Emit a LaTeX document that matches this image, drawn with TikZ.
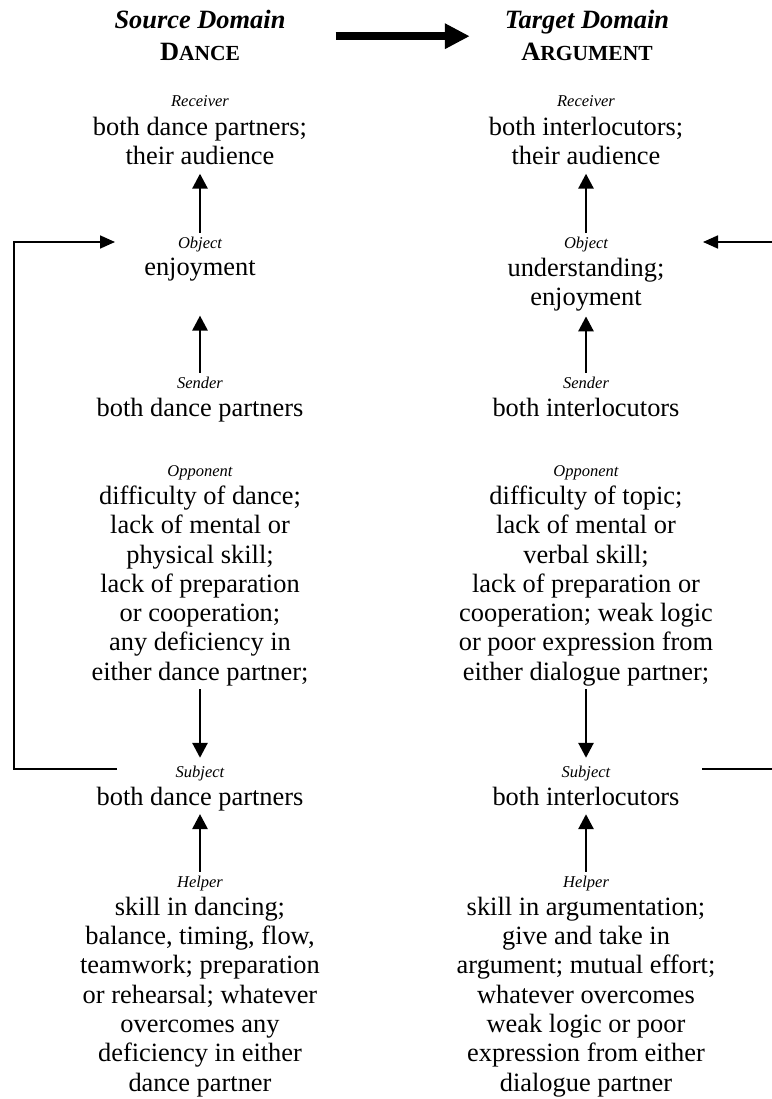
\documentclass[tikz,border=0pt]{standalone}
\usepackage{fontspec}
\setmainfont{Liberation Serif}
\usepackage{tikz}
\usetikzlibrary{arrows.meta,positioning}

\newcommand{\fakesc}[2]{#1{\fontsize{21.5}{21.5}\selectfont #2}}

\begin{document}
\begin{tikzpicture}[
  x=1pt, y=-1pt,
  heading/.style={font=\fontsize{26.4}{30}\selectfont\bfseries\itshape, inner sep=0pt, anchor=base, text height=18pt, text depth=7pt},
  domname/.style={font=\fontsize{26.4}{30}\selectfont\bfseries, inner sep=0pt, anchor=base},
  roletext/.style={font=\fontsize{16.5}{18}\selectfont\itshape, inner sep=0pt, anchor=base, text height=12pt, text depth=0pt},
  bodytext/.style={font=\fontsize{26.4}{29.3}\selectfont, align=center, inner sep=0pt},
  flow/.style={line width=2.8pt, -{Triangle[length=15pt,width=15pt]}},
  loopline/.style={line width=1.7pt, -{Triangle[length=15pt,width=13pt]}},
  bigarrow/.style={line width=8pt, -{Triangle[length=25pt,width=24pt]}},
]
\useasboundingbox (0,0) rectangle (771,1099);

% Headings
\node[heading] (sDom) at (200,29) {Source Domain};
\node[domname] (sName) at (200,61) {\fakesc{D}{ANCE}};
\node[heading] (tDom) at (587,29) {Target Domain};
\node[domname] (tName) at (587,61) {\fakesc{A}{RGUMENT}};
\draw[bigarrow, shorten <=50pt, shorten >=35pt] (sDom.south east) -- (tDom.south west);

% Source column
\node[roletext] (sRecvR) at (200,107) {Receiver};
\node[bodytext, below=9.5pt of sRecvR] (sRecv) {both dance partners;\\their audience};
\node[roletext] (sObjR) at (200,248) {Object};
\node[bodytext, below=9.5pt of sObjR] (sObj) {enjoyment};
\node[roletext] (sSendR) at (200,388) {Sender};
\node[bodytext, below=9.5pt of sSendR] (sSend) {both dance partners};
\node[roletext] (sOppR) at (200,476) {Opponent};
\node[bodytext, below=9.5pt of sOppR] (sOpp) {difficulty of dance;\\lack of mental or\\physical skill;\\lack of preparation\\or cooperation;\\any deficiency in\\either dance partner;};
\node[roletext] (sSubjR) at (200,777) {Subject};
\node[bodytext, below=9.5pt of sSubjR] (sSubj) {both dance partners};
\node[roletext] (sHelpR) at (200,887) {Helper};
\node[bodytext, below=9.5pt of sHelpR] (sHelp) {skill in dancing;\\balance, timing, flow,\\teamwork; preparation\\or rehearsal; whatever\\overcomes any\\deficiency in either\\dance partner};

\draw[flow, shorten <=3pt, shorten >=8.7pt] (sObjR) -- (sRecv);
\draw[flow, shorten <=3pt, shorten >=34.3pt] (sSendR) -- (sObj);
\draw[flow, shorten <=3pt, shorten >=7pt] (sOpp) -- (sSubjR);
\draw[flow, shorten <=3pt, shorten >=3pt] (sHelpR) -- (sSubj);

% Target column
\node[roletext] (tRecvR) at (586,107) {Receiver};
\node[bodytext, below=9.5pt of tRecvR] (tRecv) {both interlocutors;\\their audience};
\node[roletext] (tObjR) at (586,248) {Object};
\node[bodytext, below=9.5pt of tObjR] (tObj) {understanding;\\enjoyment};
\node[roletext] (tSendR) at (586,388) {Sender};
\node[bodytext, below=9.5pt of tSendR] (tSend) {both interlocutors};
\node[roletext] (tOppR) at (586,476) {Opponent};
\node[bodytext, below=9.5pt of tOppR] (tOpp) {difficulty of topic;\\lack of mental or\\verbal skill;\\lack of preparation or\\cooperation; weak logic\\or poor expression from\\either dialogue partner;};
\node[roletext] (tSubjR) at (586,777) {Subject};
\node[bodytext, below=9.5pt of tSubjR] (tSubj) {both interlocutors};
\node[roletext] (tHelpR) at (586,887) {Helper};
\node[bodytext, below=9.5pt of tHelpR] (tHelp) {skill in argumentation;\\give and take in\\argument; mutual effort;\\whatever overcomes\\weak logic or poor\\expression from either\\dialogue partner};

\draw[flow, shorten <=3pt, shorten >=8.7pt] (tObjR) -- (tRecv);
\draw[flow, shorten <=3pt, shorten >=5pt] (tSendR) -- (tObj);
\draw[flow, shorten <=3pt, shorten >=7pt] (tOpp) -- (tSubjR);
\draw[flow, shorten <=3pt, shorten >=8.5pt] (tHelpR) -- (tSubj);

% Feedback loops
\coordinate (sLoopOut) at (117,769);
\coordinate (sLoopIn) at (115,242);
\draw[loopline] (sLoopOut) -- ++(-103,0) |- (sLoopIn);
\coordinate (tLoopOut) at (702,769);
\coordinate (tLoopIn) at (703,242);
\draw[loopline] (tLoopOut) -- ++(76,0) |- (tLoopIn);

\end{tikzpicture}
\end{document}
